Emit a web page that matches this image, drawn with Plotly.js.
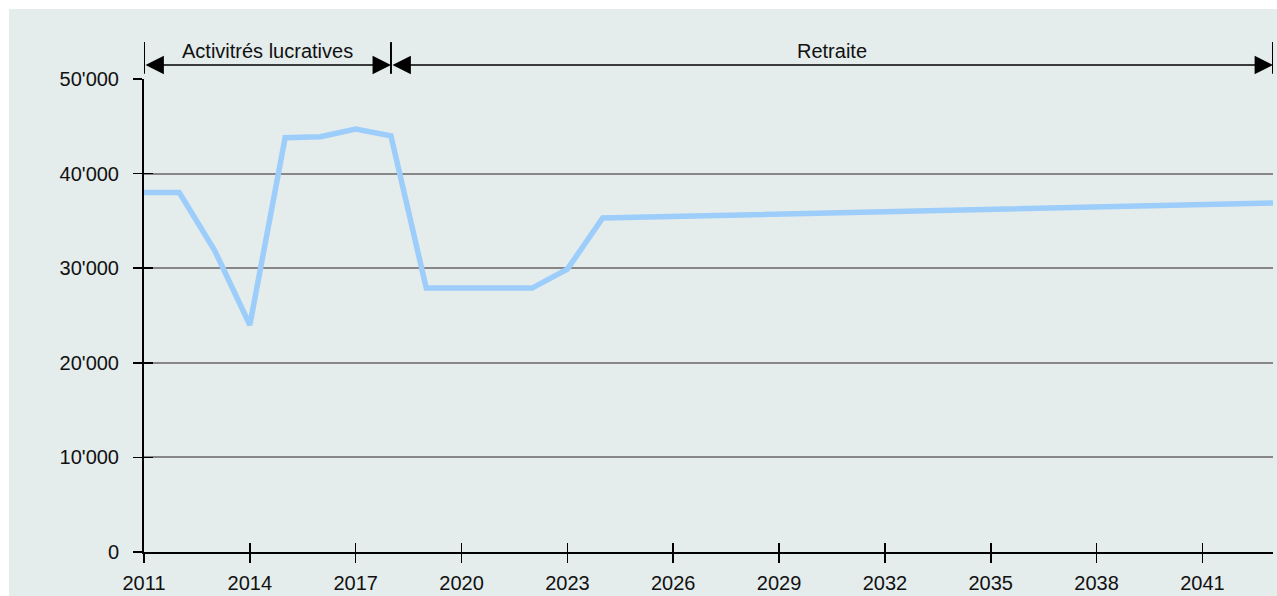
<!DOCTYPE html>
<html>
<head>
<meta charset="utf-8">
<script src="https://cdn.plot.ly/plotly-3.0.1.min.js"></script>
<style>
  html, body { margin: 0; padding: 0; background: #ffffff; }
  #chart { position: absolute; left: 9px; top: 9px; width: 1268px; height: 587px; }
</style>
</head>
<body>
<div id="chart"></div>
<script>
// Data
const years = [2011, 2012, 2013, 2014, 2015, 2016, 2017, 2018, 2019, 2020, 2021, 2022, 2023, 2024, 2043];
const income = [38000, 38000, 31900, 24000, 43800, 43900, 44700, 44000, 27900, 27900, 27900, 27900, 29900, 35300, 36900];

const xTickVals = [2011, 2014, 2017, 2020, 2023, 2026, 2029, 2032, 2035, 2038, 2041];
const xTickText = ['2011', '2014', '2017', '2020', '2023', '2026', '2029', '2032', '2035', '2038', '2041'];
const yTickVals = [0, 10000, 20000, 30000, 40000, 50000];
const yTickText = ['0', "10'000", "20'000", "30'000", "40'000", "50'000"];

const phaseNames = ['Activitrés lucratives', 'Retraite'];
const phaseBounds = [2011, 2018, 2043];

const font = { family: 'Liberation Sans, Arial, sans-serif', size: 20, color: '#111111' };

const traces = [
  {
    x: years, y: income, type: 'scatter', mode: 'lines',
    line: { color: '#9dcdfa', width: 5.5 },
    hoverinfo: 'skip', showlegend: false
  },
  {
    x: years, y: income, type: 'scatter', mode: 'lines',
    xaxis: 'x2', yaxis: 'y2',
    line: { color: 'rgba(0,0,0,0)', width: 0 },
    hoverinfo: 'skip', showlegend: false
  }
];

const yBarTop = 1.078, yBarBot = 1.011, yArrow = 1.0296, yText = 1.059;

const shapes = phaseBounds.map(b => ({
  type: 'line', xref: 'x', yref: 'paper',
  x0: b, x1: b, y0: yBarBot, y1: yBarTop,
  line: { color: '#000000', width: 2 }
}));

const annotations = [];
for (let i = 0; i < phaseNames.length; i++) {
  const a = phaseBounds[i], b = phaseBounds[i + 1];
  annotations.push({
    x: b, y: yArrow, xref: 'x', yref: 'paper',
    ax: a, ay: 0, axref: 'x', ayref: 'pixel',
    showarrow: true, arrowhead: 2, arrowside: 'end+start',
    arrowsize: 2.3, arrowwidth: 1.6, arrowcolor: '#000000', text: ''
  });
  annotations.push({
    x: (a + b) / 2, y: yText, xref: 'x', yref: 'paper',
    text: phaseNames[i], showarrow: false,
    xanchor: 'center', yanchor: 'middle', font: font
  });
}

const layout = {
  width: 1268, height: 587,
  margin: { l: 135, r: 4, t: 70, b: 44 },
  paper_bgcolor: '#e4ecec',
  plot_bgcolor: '#e4ecec',
  font: font,
  showlegend: false,
  xaxis: {
    range: [2011, 2043], tickvals: xTickVals, ticktext: xTickText,
    ticks: 'outside', ticklen: 9, tickwidth: 1.5, tickcolor: '#000000',
    showline: true, linecolor: '#000000', linewidth: 2,
    showgrid: false, zeroline: false, tickfont: font, ticklabelstandoff: 3,
    fixedrange: true
  },
  yaxis: {
    range: [0, 50000], tickvals: yTickVals, ticktext: yTickText,
    ticks: 'outside', ticklen: 9, tickwidth: 1.5, tickcolor: '#000000',
    showline: true, linecolor: '#000000', linewidth: 2,
    showgrid: true, gridcolor: '#878787', gridwidth: 2,
    zeroline: false, tickfont: font, ticklabelstandoff: 10,
    fixedrange: true
  },
  xaxis2: {
    overlaying: 'x', anchor: 'y', side: 'bottom',
    range: [2011, 2043], tickvals: xTickVals,
    ticks: 'inside', ticklen: 9, tickwidth: 1.5, tickcolor: '#000000',
    showticklabels: false, showgrid: false, showline: false, zeroline: false,
    fixedrange: true
  },
  yaxis2: {
    overlaying: 'y', anchor: 'x', side: 'left',
    range: [0, 50000], tickvals: yTickVals,
    ticks: 'inside', ticklen: 9, tickwidth: 1.5, tickcolor: '#000000',
    showticklabels: false, showgrid: false, showline: false, zeroline: false,
    fixedrange: true
  },
  shapes: shapes,
  annotations: annotations
};

Plotly.newPlot('chart', traces, layout, { displayModeBar: false, staticPlot: true });
</script>
</body>
</html>
